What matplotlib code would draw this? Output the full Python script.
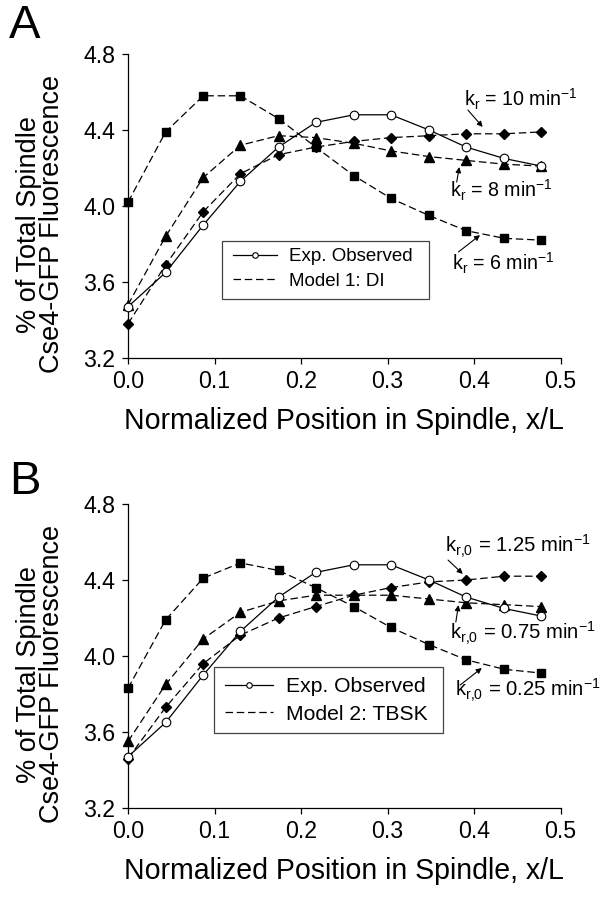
import matplotlib
matplotlib.use("Agg")
import matplotlib.pyplot as plt
from matplotlib.lines import Line2D
from matplotlib.patches import Rectangle

plt.rcParams['font.family'] = ['Liberation Sans', 'DejaVu Sans']
plt.rcParams['mathtext.fontset'] = 'custom'
plt.rcParams['mathtext.rm'] = 'Liberation Sans'
plt.rcParams['mathtext.it'] = 'Liberation Sans:italic'

# Normalized position x/L (12 bins, spacing 1/23)
positions = [0.0, 0.0435, 0.087, 0.130, 0.174, 0.217, 0.261, 0.304, 0.348, 0.391, 0.435, 0.478]

# Experimental observation (same in both panels)
exp_observed = [3.47, 3.65, 3.90, 4.13, 4.31, 4.44, 4.48, 4.48, 4.40, 4.31, 4.25, 4.21]

# Panel A: Model 1 (DI)
a_kr6 = [4.02, 4.39, 4.58, 4.58, 4.46, 4.31, 4.16, 4.04, 3.95, 3.87, 3.83, 3.82]
a_kr8 = [3.48, 3.84, 4.15, 4.32, 4.37, 4.36, 4.33, 4.29, 4.26, 4.24, 4.22, 4.21]
a_kr10 = [3.38, 3.69, 3.97, 4.17, 4.27, 4.31, 4.34, 4.36, 4.37, 4.38, 4.38, 4.39]

# Panel B: Model 2 (TBSK)
b_kr025 = [3.83, 4.19, 4.41, 4.49, 4.45, 4.36, 4.26, 4.15, 4.06, 3.98, 3.93, 3.91]
b_kr075 = [3.55, 3.85, 4.09, 4.23, 4.29, 4.32, 4.32, 4.32, 4.30, 4.28, 4.27, 4.26]
b_kr125 = [3.46, 3.73, 3.96, 4.11, 4.20, 4.26, 4.32, 4.36, 4.39, 4.40, 4.42, 4.42]

x_ticks = [0.0, 0.1, 0.2, 0.3, 0.4, 0.5]
y_ticks = [3.2, 3.6, 4.0, 4.4, 4.8]

xlabel = "Normalized Position in Spindle, x/L"
ylabel_lines = ["% of Total Spindle", "Cse4-GFP Fluorescence"]
legA_labels = ["Exp. Observed", "Model 1: DI"]
legB_labels = ["Exp. Observed", "Model 2: TBSK"]
annA = [r'k$_\mathregular{r}$ = 10 min$^\mathregular{-1}$',
        r'k$_\mathregular{r}$ = 8 min$^\mathregular{-1}$',
        r'k$_\mathregular{r}$ = 6 min$^\mathregular{-1}$']
annB = [r'k$_\mathregular{r{,}0}$ = 1.25 min$^\mathregular{-1}$',
        r'k$_\mathregular{r{,}0}$ = 0.75 min$^\mathregular{-1}$',
        r'k$_\mathregular{r{,}0}$ = 0.25 min$^\mathregular{-1}$']

W, H = 604, 899
fig = plt.figure(figsize=(W / 100, H / 100), dpi=100)
renderer = fig.canvas.get_renderer()
PX_PER_PT = fig.dpi / 72.0

def measure(s, fs):
    t = fig.text(0, 0, s, fontsize=fs)
    bb = t.get_window_extent(renderer)
    t.remove()
    return bb.width, bb.height

def fit(s, target_px, fs0=14.0):
    w, _ = measure(s, fs0)
    return fs0 * target_px / w

# font sizes fitted to the text widths measured on the reference (pixels)
fs_tick = fit("4.8", 32.5)
fs_xlabel = fit(xlabel, 444)
fs_ylabel = fit(ylabel_lines[1], 300)
fs_legA = fit(legA_labels[0], 125)
fs_legB = fit(legB_labels[0], 141)
fs_annA = fit(annA[0], 114)
fs_annB = fit(annB[0], 146)

def fig_rect(l, t, r, b):
    return [l / W, 1 - b / H, (r - l) / W, (b - t) / H]

axA = fig.add_axes(fig_rect(128, 54, 560.5, 358))
axB = fig.add_axes(fig_rect(128, 504, 560.5, 808))

dash = (0, (6, 3))
lw = 0.9

def setup(ax):
    ax.set_xlim(0, 0.5)
    ax.set_ylim(3.2, 4.8)
    ax.set_xticks(x_ticks)
    ax.set_xticklabels([f"{v:.1f}" for v in x_ticks])
    ax.set_yticks(y_ticks)
    ax.set_yticklabels([f"{v:.1f}" for v in y_ticks])
    for s in ['top', 'right']:
        ax.spines[s].set_visible(False)
    for s in ['left', 'bottom']:
        ax.spines[s].set_linewidth(0.9)
    ax.tick_params(direction='out', length=4, width=0.9, labelsize=fs_tick, pad=5)
    ax.set_xlabel(xlabel, fontsize=fs_xlabel, labelpad=10)
    ax.set_ylabel("\n".join(ylabel_lines), fontsize=fs_ylabel, linespacing=0.82)
    ax.yaxis.set_label_coords(-0.146, 0.44)

def model(ax, y, marker, ms):
    ax.plot(positions, y, linestyle=dash, color='black', lw=lw, marker=marker,
            ms=ms, mfc='black', mec='black', clip_on=False, zorder=3)

def exp(ax):
    ax.plot(positions, exp_observed, '-', color='black', lw=lw, marker='o', ms=6.2,
            mfc='white', mec='black', mew=0.8, clip_on=False, zorder=4)

for ax in (axA, axB):
    setup(ax)

model(axA, a_kr6, 's', 5.6)
model(axA, a_kr8, '^', 6.5)
model(axA, a_kr10, 'D', 5.2)
exp(axA)

model(axB, b_kr025, 's', 5.6)
model(axB, b_kr075, '^', 6.5)
model(axB, b_kr125, 'D', 5.2)
exp(axB)

def handles():
    return [Line2D([], [], color='black', lw=lw, marker='o', ms=4, mfc='white', mec='black', mew=0.8),
            Line2D([], [], color='black', lw=lw, linestyle=dash)]

def legend_box(ax, labels, fs, frame, handle_x, mid_y, handle_px, gap_px, pitch_px):
    l, t, r, b = frame
    rect = Rectangle((l / W, 1 - b / H), (r - l) / W, (b - t) / H,
                     transform=fig.transFigure, facecolor='white',
                     edgecolor='#444444', lw=0.9, zorder=5, clip_on=False)
    ax.add_artist(rect)
    fs_px = fs * PX_PER_PT
    _, th = measure(labels[0], fs)
    ls = max(0.0, (pitch_px - th) / fs_px)
    leg = ax.legend(handles(), labels, loc='center left',
                    bbox_to_anchor=(handle_x / W, 1 - mid_y / H), bbox_transform=fig.transFigure,
                    fontsize=fs, frameon=False, borderpad=0, labelspacing=ls,
                    handlelength=handle_px / fs_px, handletextpad=gap_px / fs_px,
                    borderaxespad=0)
    leg.set_zorder(6)
    return leg

legend_box(axA, legA_labels, fs_legA, (221.7, 241, 429, 299), 233, 269, 44, 12, 24.3)
legend_box(axB, legB_labels, fs_legB, (214, 667, 443, 733), 225, 700.5, 48, 13.5, 27.5)

arrow = dict(arrowstyle='-|>', color='black', lw=0.8, mutation_scale=8,
             shrinkA=0, shrinkB=0)

def label(ax, txt, fs, text_xy, tail, head):
    ax.text(text_xy[0], text_xy[1], txt, fontsize=fs, ha='left', va='center')
    ax.annotate('', xy=head, xytext=tail, arrowprops=arrow)

label(axA, annA[0], fs_annA, (0.388, 4.563), (0.393, 4.505), (0.410, 4.416))
label(axA, annA[1], fs_annA, (0.372, 4.084), (0.380, 4.126), (0.383, 4.205))
label(axA, annA[2], fs_annA, (0.375, 3.700), (0.382, 3.758), (0.407, 3.847))

label(axB, annB[0], fs_annB, (0.366, 4.574), (0.370, 4.505), (0.387, 4.432))
label(axB, annB[1], fs_annB, (0.372, 4.121), (0.379, 4.179), (0.382, 4.268))
label(axB, annB[2], fs_annB, (0.378, 3.821), (0.384, 3.847), (0.409, 3.937))

fig.text(9 / W, 1 - 4 / H, 'A', fontsize=34, ha='left', va='top')
fig.text(9 / W, 1 - 460 / H, 'B', fontsize=34, ha='left', va='top')

fig.savefig('out.png', dpi=100)
